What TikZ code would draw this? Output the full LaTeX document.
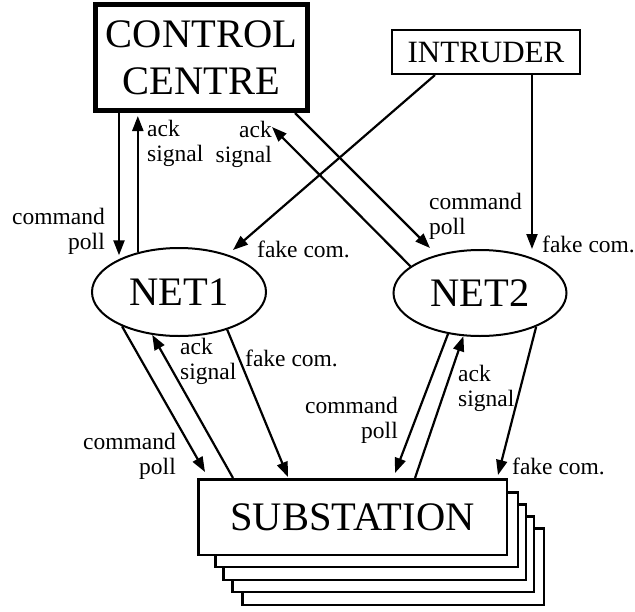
\documentclass[tikz,border=0pt]{standalone}
\usepackage{fontspec}
\setmainfont{Liberation Serif}
\usetikzlibrary{arrows.meta,shapes.geometric,calc}
\begin{document}
\begin{tikzpicture}[x=1pt,y=-1pt,
  big/.style={font=\fontsize{40.5}{47}\selectfont},
  lbl/.style={font=\fontsize{23.5}{25}\selectfont, inner sep=0pt},
  arr/.style={line width=2.2pt, -{Triangle[length=15pt,width=11pt]}},
  netnode/.style={draw, ellipse, line width=2pt, inner sep=0pt, big},
  subbox/.style={draw, fill=white, line width=2.5pt, inner sep=0pt}]
\useasboundingbox (0,0) rectangle (635,611);
% boxes
\node[draw, line width=5pt, minimum width=212pt, minimum height=106pt, inner sep=0pt, align=center, big] (cc) at (201.5,57.5) {CONTROL\\CENTRE};
\node[draw, line width=2pt, minimum width=188pt, minimum height=44pt, inner sep=0pt, font=\fontsize{31}{32}\selectfont] (intr) at (486,52) {INTRUDER};
\node[netnode, minimum width=174pt, minimum height=88pt] (net1) at (179,292) {NET1};
\node[netnode, minimum width=173pt, minimum height=86pt] (net2) at (480,293) {NET2};
\node[subbox, minimum width=301.5pt, minimum height=76.5pt] (s5) at (393,566.5) {};
\node[subbox, minimum width=301.5pt, minimum height=75.5pt] (s4) at (383,554) {};
\node[subbox, minimum width=302.5pt, minimum height=75.5pt] (s3) at (374.5,542) {};
\node[subbox, minimum width=302.5pt, minimum height=74.5pt] (s2) at (366.5,529.5) {};
\node[subbox, minimum width=308.5pt, minimum height=75.5pt, big] (sub) at (352.5,517) {SUBSTATION};
% connectors top
\draw[arr, shorten >=3pt] ($(cc.south west)+(26,0)$) coordinate (a1) -- (a1 |- net1.150);
\draw[arr, shorten >=3pt] (net1.136) -- (net1.136 |- cc.south);
\draw[arr] ($(cc.south east)+(-15,0)$) -- ($(net2)+(-50,-45)$);
\draw[arr] (net2.159) -- ($(cc.south east)+(-38,14)$);
\draw[arr] ($(intr.south west)+(44,0)$) -- ($(net1)+(54,-42)$);
\draw[arr] ($(intr.south west)+(141,0)$) coordinate (a6) -- (a6 |- net2.north);
% connectors bottom
\draw[arr] (net1.-149) -- ($(sub.north west)+(8,-6)$);
\draw[arr] ($(sub.north west)+(36,0)$) -- (net1.-122);
\draw[arr] (net1.-38) -- ($(sub.north west)+(91,-1)$);
\draw[arr] (net2.-128) -- ($(sub.north west)+(198,-5)$);
\draw[arr] ($(sub.north west)+(218,0)$) -- (net2.-111);
\draw[arr] (net2.-31) -- ($(sub.north west)+(301,-3)$);
% labels
\node[lbl, anchor=north east, align=right] (l1) at (105,208) {command\\poll};
\node[lbl, anchor=north west, align=left] (l2) at (147,120) {ack\\signal};
\node[lbl, anchor=north east, align=right] (l3) at (272,121) {ack\\signal};
\node[lbl, anchor=north west] (l4) at (257,241) {fake com.};
\node[lbl, anchor=north west, align=left] (l5) at (429,193) {command\\poll};
\node[lbl, anchor=north west] (l6) at (542,236) {fake com.};
\node[lbl, anchor=north east, align=right] (l7) at (176,433) {command\\poll};
\node[lbl, anchor=north west, align=left] (l8) at (180,338) {ack\\signal};
\node[lbl, anchor=north west] (l9) at (245,350) {fake com.};
\node[lbl, anchor=north east, align=right] (l10) at (398,397) {command\\poll};
\node[lbl, anchor=north west, align=left] (l11) at (458,365) {ack\\signal};
\node[lbl, anchor=north west] (l12) at (512,458) {fake com.};
\end{tikzpicture}
\end{document}
